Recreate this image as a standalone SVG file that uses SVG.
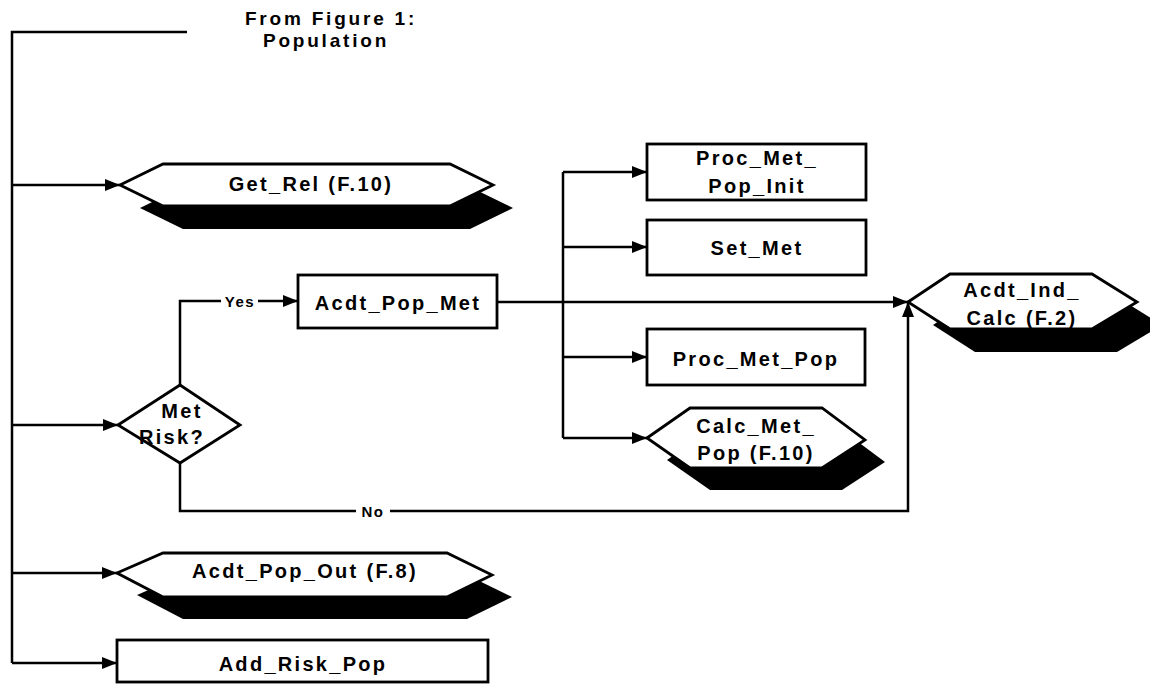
<svg xmlns="http://www.w3.org/2000/svg" width="1150" height="686" viewBox="0 0 1150 686">
<style>
.ln{fill:none;stroke:#000;stroke-width:2.5}
.box{fill:#fff;stroke:#000;stroke-width:2.8}
.sh{fill:#000;stroke:none}
.t{font-family:"Liberation Sans",Arial,sans-serif;font-weight:bold;font-size:20px;letter-spacing:2.3px;text-anchor:middle;fill:#000}
.tt{font-family:"Liberation Sans",Arial,sans-serif;font-weight:bold;font-size:19px;letter-spacing:2.8px;text-anchor:middle;fill:#000}
.lb{font-family:"Liberation Sans",Arial,sans-serif;font-weight:bold;font-size:15px;letter-spacing:1.5px;text-anchor:middle;fill:#000}
</style>
<defs>
<marker id="ah" markerUnits="userSpaceOnUse" markerWidth="16" markerHeight="14" refX="15" refY="7" orient="auto">
<path d="M0,1 L15,7 L0,13 Z" fill="#000"/>
</marker>
</defs>
<rect width="1150" height="686" fill="#fff"/>
<g id="title">
<text class="tt" x="331" y="25">From Figure 1:</text>
<text class="tt" x="326" y="47">Population</text>
</g>
<g id="connectors">
<path class="ln" d="M187,32 H12 V663"/>
<path class="ln" d="M12,185 H120" marker-end="url(#ah)"/>
<path class="ln" d="M12,425 H118" marker-end="url(#ah)"/>
<path class="ln" d="M12,573 H117" marker-end="url(#ah)"/>
<path class="ln" d="M12,663 H117" marker-end="url(#ah)"/>
<path class="ln" d="M180,385 V301 H221"/>
<path class="ln" d="M258,301 H298" marker-end="url(#ah)"/>
<path class="ln" d="M497,302 H908" marker-end="url(#ah)"/>
<path class="ln" d="M563,172 V438"/>
<path class="ln" d="M563,172 H647" marker-end="url(#ah)"/>
<path class="ln" d="M563,247 H647" marker-end="url(#ah)"/>
<path class="ln" d="M563,357 H647" marker-end="url(#ah)"/>
<path class="ln" d="M563,438 H647" marker-end="url(#ah)"/>
<path class="ln" d="M180,463 V511 H356"/>
<path class="ln" d="M390,511 H908 V302" marker-end="url(#ah)"/>
<text class="lb" x="240" y="307">Yes</text>
<text class="lb" x="373" y="517">No</text>
</g>
<g id="get_rel">
<polygon class="sh" points="140,208 183,187 470,187 513,208 470,229 183,229"/>
<polygon class="box" points="120,185 163,164 450,164 493,185 450,206 163,206"/>
<text class="t" x="311" y="191">Get_Rel (F.10)</text>
</g>
<g id="met_risk">
<polygon class="box" points="118,425 180,385 240,425 180,463"/>
<text class="t" x="182" y="418">Met</text>
<text class="t" x="172" y="444">Risk?</text>
</g>
<g id="acdt_pop_met">
<rect class="box" x="298" y="275" width="199" height="53"/>
<text class="t" x="398" y="310">Acdt_Pop_Met</text>
</g>
<g id="proc_met_pop_init">
<rect class="box" x="647" y="144" width="219" height="56"/>
<text class="t" x="757" y="165">Proc_Met_</text>
<text class="t" x="757" y="193">Pop_Init</text>
</g>
<g id="set_met">
<rect class="box" x="647" y="220" width="219" height="55"/>
<text class="t" x="757" y="255">Set_Met</text>
</g>
<g id="proc_met_pop">
<rect class="box" x="647" y="329" width="218" height="56"/>
<text class="t" x="756" y="366">Proc_Met_Pop</text>
</g>
<g id="calc_met_pop">
<polygon class="sh" points="667,460 710,430 842,430 885,462 842,490 710,490"/>
<polygon class="box" points="647,438 690,408 822,408 865,440 822,468 690,468"/>
<text class="t" x="756" y="433">Calc_Met_</text>
<text class="t" x="756" y="460">Pop (F.10)</text>
</g>
<g id="acdt_ind_calc">
<polygon class="sh" points="933,325 975,297 1117,297 1162,325 1117,352 975,352"/>
<polygon class="box" points="908,302 950,274 1092,274 1137,302 1092,329 950,329"/>
<text class="t" x="1022" y="297">Acdt_Ind_</text>
<text class="t" x="1022" y="325">Calc (F.2)</text>
</g>
<g id="acdt_pop_out">
<polygon class="sh" points="137,595 183,575 467,575 512,597 467,619 183,619"/>
<polygon class="box" points="117,573 163,553 447,553 492,575 447,597 163,597"/>
<text class="t" x="305" y="578">Acdt_Pop_Out (F.8)</text>
</g>
<g id="add_risk_pop">
<rect class="box" x="117" y="640" width="371" height="42"/>
<text class="t" x="303" y="671">Add_Risk_Pop</text>
</g>
</svg>
